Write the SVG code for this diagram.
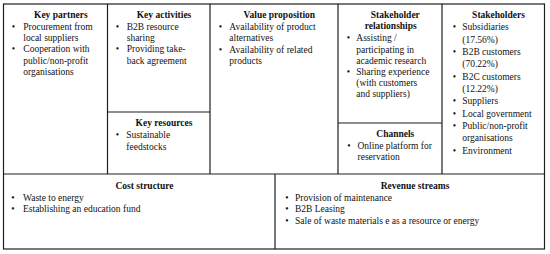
<svg xmlns="http://www.w3.org/2000/svg" width="550" height="254" viewBox="0 0 550 254">
<style>
text{font-family:"Liberation Serif","Times New Roman",serif;font-size:9.5px;fill:#111}
.t{font-weight:bold;text-anchor:middle}
.b{text-anchor:middle}
.g{stroke:#1e1e1e;stroke-width:1.2;fill:none}
</style>
<rect width="550" height="254" fill="#fff"/>
<g id="grid" class="g">
<rect x="3.5" y="4" width="541" height="245"/>
<path d="M107.5 4V174M210 4V174M338 4V174M442 4V174M3.5 174H544.5M107.5 112H210M338 123H442M275 174V249"/>
</g>
<g id="key-partners">
<text class="t" x="60.8" y="18">Key partners</text>
<text class="b" x="13.5" y="29.5">•</text>
<text x="23.3" y="29.5">Procurement from<tspan x="23.3" y="40.5">local suppliers</tspan></text>
<text class="b" x="13.5" y="52">•</text>
<text x="23.3" y="52">Cooperation with<tspan x="23.3" y="63.5">public/non-profit</tspan><tspan x="23.3" y="74.5">organisations</tspan></text>
</g>
<g id="key-activities">
<text class="t" x="164" y="18">Key activities</text>
<text class="b" x="117.5" y="29.5">•</text>
<text x="126.7" y="29.5">B2B resource<tspan x="126.7" y="40.5">sharing</tspan></text>
<text class="b" x="117.5" y="52">•</text>
<text x="126.7" y="52">Providing take-<tspan x="126.7" y="63.5">back agreement</tspan></text>
</g>
<g id="key-resources">
<text class="t" x="164" y="126.3">Key resources</text>
<text class="b" x="117.5" y="138">•</text>
<text x="126.3" y="138">Sustainable<tspan x="126.3" y="149.7">feedstocks</tspan></text>
</g>
<g id="value-proposition">
<text class="t" x="279.3" y="18">Value proposition</text>
<text class="b" x="220.5" y="29.5">•</text>
<text x="229.3" y="29.5">Availability of product<tspan x="229.3" y="40.5">alternatives</tspan></text>
<text class="b" x="220.5" y="52.5">•</text>
<text x="229.3" y="52.5">Availability of related<tspan x="229.3" y="64">products</tspan></text>
</g>
<g id="stakeholder-relationships">
<text class="t" x="395.3" y="18">Stakeholder<tspan x="390.7" y="29.3">relationships</tspan></text>
<text class="b" x="348.5" y="41">•</text>
<text x="356.3" y="41">Assisting /<tspan x="356.3" y="52.5">participating in</tspan><tspan x="356.3" y="63.5">academic research</tspan></text>
<text class="b" x="348.5" y="74.5">•</text>
<text x="356.3" y="74.5">Sharing experience<tspan x="356.3" y="86">(with customers</tspan><tspan x="356.3" y="97">and suppliers)</tspan></text>
</g>
<g id="channels">
<text class="t" x="395.3" y="137">Channels</text>
<text class="b" x="349" y="148.7">•</text>
<text x="357.5" y="148.7">Online platform for<tspan x="357.5" y="159.7">reservation</tspan></text>
</g>
<g id="stakeholders">
<text class="t" x="498.5" y="18">Stakeholders</text>
<text class="b" x="454.5" y="30.3">•</text>
<text x="462.3" y="30.3">Subsidiaries<tspan x="462.3" y="42.6">(17.56%)</tspan></text>
<text class="b" x="454.5" y="55">•</text>
<text x="462.3" y="55">B2B customers<tspan x="462.3" y="67.3">(70.22%)</tspan></text>
<text class="b" x="454.5" y="79.7">•</text>
<text x="462.3" y="79.7">B2C customers<tspan x="462.3" y="92">(12.22%)</tspan></text>
<text class="b" x="454.5" y="104.3">•</text>
<text x="462.3" y="104.3">Suppliers</text>
<text class="b" x="454.5" y="116.7">•</text>
<text x="462.3" y="116.7">Local government</text>
<text class="b" x="454.5" y="129">•</text>
<text x="462.3" y="129">Public/non-profit<tspan x="462.3" y="141.4">organisations</tspan></text>
<text class="b" x="454.5" y="153.7">•</text>
<text x="462.3" y="153.7">Environment</text>
</g>
<g id="cost-structure">
<text class="t" x="144.5" y="188.7">Cost structure</text>
<text class="b" x="13" y="201.3">•</text>
<text x="23" y="201.3">Waste to energy</text>
<text class="b" x="13" y="212.3">•</text>
<text x="23" y="212.3">Establishing an education fund</text>
</g>
<g id="revenue-streams">
<text class="t" x="415" y="188.7">Revenue streams</text>
<text class="b" x="287" y="201.3">•</text>
<text x="295" y="201.3">Provision of maintenance</text>
<text class="b" x="287" y="212.3">•</text>
<text x="295" y="212.3">B2B Leasing</text>
<text class="b" x="287" y="223.7">•</text>
<text x="295" y="223.7">Sale of waste materials e as a resource or energy</text>
</g>
</svg>
